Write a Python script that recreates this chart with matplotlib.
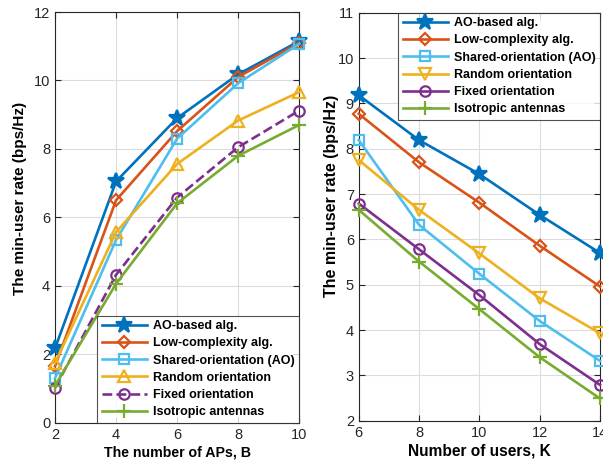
import matplotlib
matplotlib.use("Agg")
import matplotlib.pyplot as plt

plt.rcParams['font.family'] = ['Liberation Sans', 'DejaVu Sans']

labels = ['AO-based alg.', 'Low-complexity alg.', 'Shared-orientation (AO)',
          'Random orientation', 'Fixed orientation', 'Isotropic antennas']
colors = ['#0072BD', '#D95319', '#4DBEEE', '#EDB120', '#7E2F8E', '#77AC30']

B = [2, 4, 6, 8, 10]
left_ao = [2.17, 7.05, 8.90, 10.18, 11.15]
left_low = [1.65, 6.50, 8.52, 10.10, 11.10]
left_shared = [1.30, 5.34, 8.30, 9.92, 11.07]
left_random = [1.74, 5.57, 7.56, 8.83, 9.66]
left_fixed = [1.02, 4.32, 6.58, 8.05, 9.12]
left_iso = [1.08, 4.06, 6.41, 7.80, 8.70]

K = [6, 8, 10, 12, 14]
right_ao = [9.18, 8.19, 7.44, 6.54, 5.70]
right_low = [8.77, 7.70, 6.81, 5.86, 4.96]
right_shared = [8.19, 6.32, 5.24, 4.20, 3.32]
right_random = [7.75, 6.65, 5.69, 4.70, 3.93]
right_fixed = [6.79, 5.78, 4.77, 3.69, 2.79]
right_iso = [6.65, 5.51, 4.46, 3.40, 2.49]

fig = plt.figure(figsize=(6.03, 4.62), dpi=100)
ax1 = fig.add_axes([0.0912, 0.085, 0.405, 0.889])
ax2 = fig.add_axes([0.595, 0.0894, 0.400, 0.883])

lw = 1.9
mew = 1.6

def style(ax):
    ax.grid(True, color='#dcdcdc', linewidth=0.8)
    ax.set_axisbelow(True)
    ax.tick_params(direction='in', top=True, right=True, labelsize=10.5,
                   length=4, color='#262626', labelcolor='#262626')
    for s in ax.spines.values():
        s.set_color('#262626')
        s.set_linewidth(0.8)

def add_legend(ax, loc):
    leg = ax.legend(loc=loc, borderaxespad=0, handlelength=3.6,
                    labelspacing=0.42, fancybox=False, edgecolor='#262626',
                    prop={'weight': 'bold', 'size': 9}, handletextpad=0.5,
                    borderpad=0.35)
    leg.get_frame().set_linewidth(0.8)
    return leg

# Left
left_series = [left_ao, left_low, left_shared, left_random, left_fixed, left_iso]
left_markers = ['*', 'D', 's', '^', 'o', '+']
left_ms = [12, 6.5, 6.5, 9, 7.5, 10]
left_ls = ['-', '-', '-', '-', '--', '-']
for y, c, m, s, ls, lab in zip(left_series, colors, left_markers, left_ms, left_ls, labels):
    ax1.plot(B, y, color=c, marker=m, markersize=s, linewidth=lw, linestyle=ls,
             markerfacecolor=c if m in ('*', '+') else 'none',
             markeredgewidth=mew, label=lab, clip_on=False, zorder=3)
ax1.set_xlim(2, 10)
ax1.set_ylim(0, 12)
ax1.set_xticks(B)
ax1.set_yticks([0, 2, 4, 6, 8, 10, 12])
ax1.set_xlabel('The number of APs, B', fontsize=10.2, fontweight='bold', labelpad=2.5)
ax1.set_ylabel('The min-user rate (bps/Hz)', fontsize=11, fontweight='bold')
ax1.yaxis.set_label_coords(-0.113, 0.545)
style(ax1)
add_legend(ax1, 'lower right')

# Right
right_series = [right_ao, right_low, right_shared, right_random, right_fixed, right_iso]
right_markers = ['*', 'D', 's', 'v', 'o', '+']
right_ms = [12, 6.5, 6.5, 9, 7.5, 10]
for y, c, m, s, lab in zip(right_series, colors, right_markers, right_ms, labels):
    ax2.plot(K, y, color=c, marker=m, markersize=s, linewidth=lw,
             markerfacecolor=c if m in ('*', '+') else 'none',
             markeredgewidth=mew, label=lab, clip_on=False, zorder=3)
ax2.set_xlim(6, 14)
ax2.set_ylim(2, 11)
ax2.set_xticks(K)
ax2.set_yticks(range(2, 12))
ax2.set_xlabel('Number of users, K', fontsize=11.2, fontweight='bold', labelpad=2.5)
ax2.set_ylabel('The min-user rate (bps/Hz)', fontsize=11.5, fontweight='bold')
ax2.yaxis.set_label_coords(-0.08, 0.55)
style(ax2)
add_legend(ax2, 'upper right')

fig.savefig('out.png', dpi=100)
